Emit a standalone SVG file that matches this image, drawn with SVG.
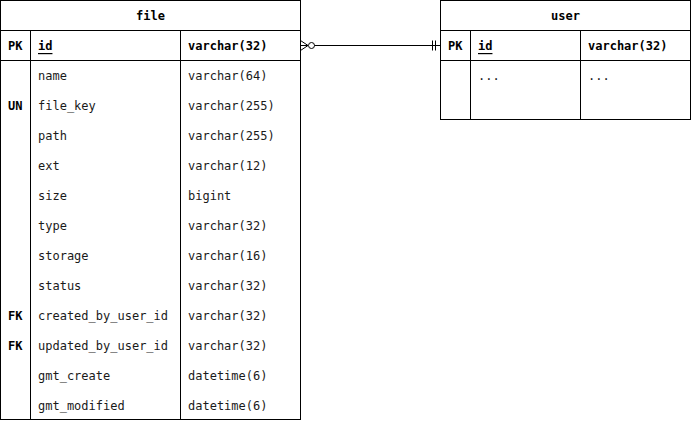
<svg xmlns="http://www.w3.org/2000/svg" width="691" height="421" viewBox="0 0 691 421">
  <style>
    .box { fill: #ffffff; stroke: #000000; stroke-width: 1; }
    .ln { stroke: #000000; stroke-width: 1; fill: none; }
    text { font-family: "DejaVu Sans Mono", "Liberation Mono", monospace; font-size: 12px; fill: #1a1a1a; dominant-baseline: central; }
    .title { font-weight: bold; text-anchor: middle; fill: #000000; }
    .key { font-weight: bold; fill: #000000; }
    .pk { font-weight: bold; fill: #000000; }
    .u { text-decoration: underline; }
    .conn { stroke: #000000; stroke-width: 1; fill: none; }
  </style>
  <rect width="691" height="421" fill="#ffffff"/>

  <!-- table: file -->
  <g id="file">
    <rect class="box" x="0.5" y="0.5" width="300" height="419"/>
    <line class="ln" x1="0.5" y1="30.5" x2="300.5" y2="30.5"/>
    <line class="ln" x1="0.5" y1="60.5" x2="300.5" y2="60.5"/>
    <line class="ln" x1="30.5" y1="30.5" x2="30.5" y2="419.5"/>
    <line class="ln" x1="180.5" y1="30.5" x2="180.5" y2="419.5"/>
    <text class="title" x="150.5" y="16">file</text>
    <text class="key" x="8" y="46">PK</text>
    <text class="pk u" x="38" y="46">id</text>
    <text class="pk" x="188" y="46">varchar(32)</text>
    <text x="38" y="76">name</text><text x="188" y="76">varchar(64)</text>
    <text class="key" x="8" y="106">UN</text>
    <text x="38" y="106">file_key</text><text x="188" y="106">varchar(255)</text>
    <text x="38" y="136">path</text><text x="188" y="136">varchar(255)</text>
    <text x="38" y="166">ext</text><text x="188" y="166">varchar(12)</text>
    <text x="38" y="196">size</text><text x="188" y="196">bigint</text>
    <text x="38" y="226">type</text><text x="188" y="226">varchar(32)</text>
    <text x="38" y="256">storage</text><text x="188" y="256">varchar(16)</text>
    <text x="38" y="286">status</text><text x="188" y="286">varchar(32)</text>
    <text class="key" x="8" y="316">FK</text>
    <text x="38" y="316">created_by_user_id</text><text x="188" y="316">varchar(32)</text>
    <text class="key" x="8" y="346">FK</text>
    <text x="38" y="346">updated_by_user_id</text><text x="188" y="346">varchar(32)</text>
    <text x="38" y="376">gmt_create</text><text x="188" y="376">datetime(6)</text>
    <text x="38" y="406">gmt_modified</text><text x="188" y="406">datetime(6)</text>
  </g>

  <!-- table: user -->
  <g id="user">
    <rect class="box" x="440.5" y="0.5" width="250" height="119"/>
    <line class="ln" x1="440.5" y1="30.5" x2="690.5" y2="30.5"/>
    <line class="ln" x1="440.5" y1="60.5" x2="690.5" y2="60.5"/>
    <line class="ln" x1="470.5" y1="30.5" x2="470.5" y2="119.5"/>
    <line class="ln" x1="580.5" y1="30.5" x2="580.5" y2="119.5"/>
    <text class="title" x="565.5" y="16">user</text>
    <text class="key" x="448" y="46">PK</text>
    <text class="pk u" x="478" y="46">id</text>
    <text class="pk" x="588" y="46">varchar(32)</text>
    <text x="478" y="76">...</text>
    <text x="588" y="76">...</text>
  </g>

  <!-- relation: file.created/updated_by_user_id -> user.id -->
  <g id="connectors">
    <line class="conn" x1="314.5" y1="45.5" x2="440.5" y2="45.5"/>
    <!-- zero-or-many end -->
    <polyline class="conn" points="300.5,40.5 308,45.5 300.5,50.5"/>
    <line class="conn" x1="300.5" y1="45.5" x2="308" y2="45.5"/>
    <circle class="conn" cx="311.5" cy="45.5" r="3" fill="#ffffff"/>
    <!-- exactly-one end -->
    <line class="conn" x1="432.5" y1="40.5" x2="432.5" y2="50.5"/>
    <line class="conn" x1="435.5" y1="40.5" x2="435.5" y2="50.5"/>
  </g>
</svg>
